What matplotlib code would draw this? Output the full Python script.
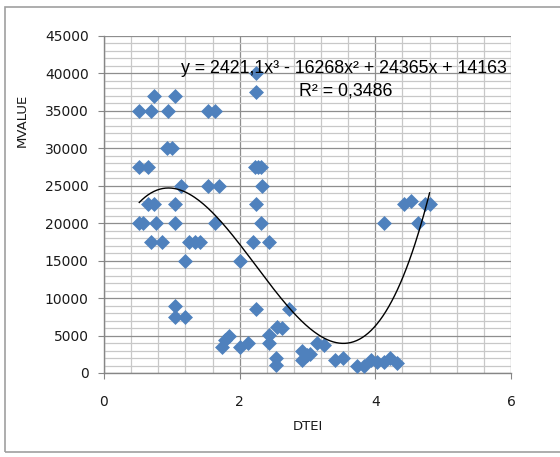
import numpy as np
import matplotlib.pyplot as plt
from matplotlib.ticker import MultipleLocator
from matplotlib.patches import Rectangle

# values
dtei = [0.52, 0.69, 0.74, 0.94, 1.04, 1.53, 1.64,
        0.93, 1.00, 0.52, 0.65,
        1.14, 1.53, 1.69,
        0.65, 0.74, 1.05,
        0.52, 0.57, 0.77, 1.05, 1.64,
        0.70, 0.85, 1.25, 1.34, 1.42,
        1.19, 2.01,
        1.05, 1.05, 1.20,
        1.74, 1.79, 1.84, 2.01,
        2.24, 2.24,
        2.22, 2.27, 2.32, 2.33,
        2.24, 2.31, 2.19, 2.43,
        2.24, 2.72,
        2.55, 2.62, 2.43, 2.13, 2.43,
        2.53, 2.53,
        2.92, 2.99, 3.04, 2.92,
        3.14, 3.24,
        3.41, 3.53,
        3.73, 3.83, 3.93, 4.03, 4.13, 4.22, 4.32,
        4.13, 4.42, 4.53, 4.73, 4.80, 4.63]
mvalue = [35000, 35000, 37000, 35000, 37000, 35000, 35000,
          30000, 30000, 27500, 27500,
          25000, 25000, 25000,
          22500, 22500, 22500,
          20000, 20000, 20000, 20000, 20000,
          17500, 17500, 17500, 17500, 17500,
          15000, 15000,
          9000, 7500, 7500,
          3500, 4400, 5000, 3500,
          40000, 37500,
          27500, 27500, 27500, 25000,
          22500, 20000, 17500, 17500,
          8500, 8500,
          6200, 6000, 5100, 4000, 4000,
          2000, 1100,
          3000, 2400, 2500, 1700,
          4000, 3800,
          1700, 2000,
          1000, 1000, 1700, 1500, 1500, 2000, 1300,
          20000, 22500, 23000, 22500, 22500, 20000]

# trendline coefficients as printed on the chart
trend_coef = [2421.1, -16268, 24365, 14163]
trend_label = 'y = 2421,1x³ - 16268x² + 24365x + 14163'
r2_label = 'R² = 0,3486'

fig = plt.figure(figsize=(5.6, 4.57), dpi=100)
fig.patches.append(Rectangle((5 / 560, 5 / 457), 1.2, 445 / 457, transform=fig.transFigure,
                             fill=False, edgecolor='#a0a0a0', linewidth=1.2))

ax = fig.add_axes([104 / 560, 84 / 457, 407 / 560, 337 / 457])
ax.set_xlim(0, 6)
ax.set_ylim(0, 45000)
ax.xaxis.set_major_locator(MultipleLocator(2))
ax.xaxis.set_minor_locator(MultipleLocator(0.4))
ax.yaxis.set_major_locator(MultipleLocator(5000))
ax.yaxis.set_minor_locator(MultipleLocator(1000))
ax.grid(which='minor', color='#c8c8c8', linewidth=0.9)
ax.grid(which='major', color='#8e8e8e', linewidth=0.9)
ax.set_axisbelow(True)

for s in ['top', 'right']:
    ax.spines[s].set_visible(False)
for s in ['left', 'bottom']:
    ax.spines[s].set_color('#868686')
    ax.spines[s].set_linewidth(1)

ax.tick_params(which='major', length=4, color='#868686', labelsize=10, labelcolor='#1a1a1a')
ax.tick_params(which='minor', length=0)
ax.tick_params(axis='x', pad=12)
ax.tick_params(axis='y', pad=7)

ax.scatter(dtei, mvalue, marker='D', s=58, color='#4f81bd', zorder=3, linewidths=0)

xs = np.linspace(min(dtei), max(dtei), 200)
ax.plot(xs, np.polyval(trend_coef, xs), color='black', linewidth=1.0, zorder=4)

ax.text(1.14, 40700, trend_label, fontsize=12.8, family='Liberation Sans', color='black', va='center')
ax.text(2.88, 37600, r2_label, fontsize=12.8, family='Liberation Sans', color='black', va='center')

ax.set_xlabel('DTEI', fontsize=9.5, color='#1a1a1a', labelpad=8)
fig.text(22 / 560, 1 - 120 / 457, 'MVALUE', rotation=90, fontsize=9.5, color='#1a1a1a',
         ha='center', va='center')

fig.savefig('out.png', dpi=100)
